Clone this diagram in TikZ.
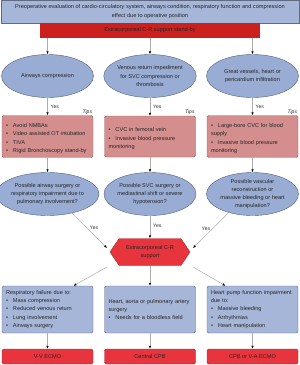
\documentclass[tikz,border=0pt]{standalone}
\usepackage{fontspec}
\setmainfont{Liberation Sans}
\usetikzlibrary{shapes.geometric,shapes.symbols,arrows.meta,calc}

\definecolor{evalblue}{RGB}{166,182,216}
\definecolor{evalline}{RGB}{96,106,128}
\definecolor{ovalblue}{RGB}{152,172,212}
\definecolor{ovalline}{RGB}{84,96,124}
\definecolor{tipfill}{RGB}{212,142,142}
\definecolor{tipline}{RGB}{150,100,100}
\definecolor{standbyred}{RGB}{204,32,30}
\definecolor{ecmored}{RGB}{232,52,60}
\definecolor{ecmoline}{RGB}{170,40,44}

% bullet line with hanging indent
\newcommand{\bul}[1]{\par\hangindent=7pt\hangafter=1\noindent\makebox[7pt][l]{\textbullet}#1}

\begin{document}
\begin{tikzpicture}[x=1pt,y=-1pt,
  font=\fontsize{5.6}{8.2}\selectfont, text=black!85,
  evalbox/.style={rectangle,draw=evalline,fill=evalblue,minimum width=298,minimum height=23,inner sep=0,align=center},
  standby/.style={rectangle,fill=standbyred,minimum width=220,minimum height=15,inner sep=0},
  oval/.style={ellipse,draw=ovalline,fill=ovalblue,minimum width=92,minimum height=43,inner sep=0,align=center},
  tipbox/.style={rectangle,rounded corners=1.5pt,draw=tipline,fill=tipfill,minimum width=91,minimum height=41,text width=83,inner sep=4pt,align=left},
  needbox/.style={rectangle,rounded corners=1.5pt,draw=evalline,fill=evalblue,minimum width=91,minimum height=47,text width=83,inner sep=4pt,align=left},
  ecmo/.style={rectangle,rounded corners=1.5pt,draw=ecmoline,fill=ecmored,minimum width=91,minimum height=15,inner sep=0},
  hexa/.style={signal,signal to=west and east,signal pointer angle=112,fill=ecmored,draw=ecmoline,minimum width=80,minimum height=27,inner sep=0,align=center},
  yes/.style={inner sep=0,font=\fontsize{5}{6}\selectfont},
  tips/.style={inner sep=1pt,font=\fontsize{5}{6}\selectfont\itshape},
  conn/.style={draw=gray!65,line width=0.5pt,-{Latex[length=3pt,width=2.4pt,color=black]}}
]
  \useasboundingbox (0,0) rectangle (300,365);

  \node[evalbox] (eval) at (150,11.5) {Preoperative evaluation of cardio-circulatory system, airways condition, respiratory function and compression\\effect due to operative position};
  \node[standby] (sb) at (150,30.5) {Extracorporeal C-R support stand-by};

  \node[oval] (e1) at (47.5,76) {Airways compression};
  \node[oval] (e2) at (150,76) {Venous return impediment\\for SVC compression or\\thrombosis};
  \node[oval] (e3) at (252.5,76) {Great vessels, heart or\\pericardium infiltration};

  \node[tipbox] (t1) at (47.5,136.5) {\bul{Avoid NMBAs}\bul{Video assisted OT intubation}\bul{TIVA}\bul{Rigid Bronchoscopy stand-by}};
  \node[tipbox] (t2) at (150,136.5) {\bul{CVC in femoral vein}\bul{Invasive blood pressure\\monitoring}};
  \node[tipbox] (t3) at (252.5,136.5) {\bul{Large-bore CVC for blood\\supply}\bul{Invasive blood pressure\\monitoring}};
  \node[tips,anchor=south east] (tp1) at (t1.north east) {Tips};
  \node[tips,anchor=south east] (tp2) at (t2.north east) {Tips};
  \node[tips,anchor=south east] (tp3) at (t3.north east) {Tips};

  \node[oval] (q1) at (47.5,194) {Possible airway surgery or\\respiratory impairment due to\\pulmonary involvement?};
  \node[oval] (q2) at (150,194) {Possible SVC surgery or\\mediastinal shift or severe\\hypotension?};
  \node[oval] (q3) at (252.5,194) {Possible vascular\\reconstruction or\\massive bleeding or heart\\manipulation?};

  \node[hexa] (ecr) at (150,252) {Extracorporeal C-R\\support};

  \node[needbox] (n1) at (47.5,309.5) {Respiratory failure due to:\bul{Mass compression}\bul{Reduced venous return}\bul{Lung involvement}\bul{Airways surgery}};
  \node[needbox] (n2) at (150,309.5) {Heart, aorta or pulmonary artery\\surgery\bul{Needs for a bloodless field}};
  \node[needbox] (n3) at (252.5,309.5) {Heart pump function impairment\\due to:\bul{Massive bleeding}\bul{Arrhythmias}\bul{Heart manipulation}};

  \node[ecmo] (m1) at (47.5,356.5) {V-V ECMO};
  \node[ecmo] (m2) at (150,356.5) {Central CPB};
  \node[ecmo] (m3) at (252.5,356.5) {CPB or V-A ECMO};

  \draw[conn] (e1 |- sb.south) -- (e1.north);
  \draw[conn] (e2 |- sb.south) -- (e2.north);
  \draw[conn] (e3 |- sb.south) -- (e3.north);
  \draw[conn] (e1.south) -- (t1.north);
  \draw[conn] (e2.south) -- (t2.north);
  \draw[conn] (e3.south) -- (t3.north);
  \node[yes,anchor=west] (y1) at (50.5,107) {Yes};
  \node[yes,anchor=west] (y2) at (153,107) {Yes};
  \node[yes,anchor=west] (y3) at (255.5,107) {Yes};
  \draw[conn] (t1.south) -- (q1.north);
  \draw[conn] (t2.south) -- (q2.north);
  \draw[conn] (t3.south) -- (q3.north);

  \draw[conn] (q1.-38) -- ($(ecr)+(-43,-4)$);
  \draw[conn] (q2.south) -- (ecr.north);
  \draw[conn] (q3.218) -- ($(ecr)+(43,-4)$);
  \node[yes] (y4) at (94,228) {Yes};
  \node[yes,anchor=west] (y5) at (153,226) {Yes};
  \node[yes] (y6) at (206,229) {Yes};

  \draw[conn] ($(ecr)+(-43,15)$) -- ($(n1.north)+(26,0)$);
  \draw[conn] (ecr.south) -- (n2.north);
  \draw[conn] ($(ecr)+(43,15)$) -- ($(n3.north)+(-27,0)$);

  \draw[conn] (n1.south) -- (m1.north);
  \draw[conn] (n2.south) -- (m2.north);
  \draw[conn] (n3.south) -- (m3.north);
\end{tikzpicture}
\end{document}
